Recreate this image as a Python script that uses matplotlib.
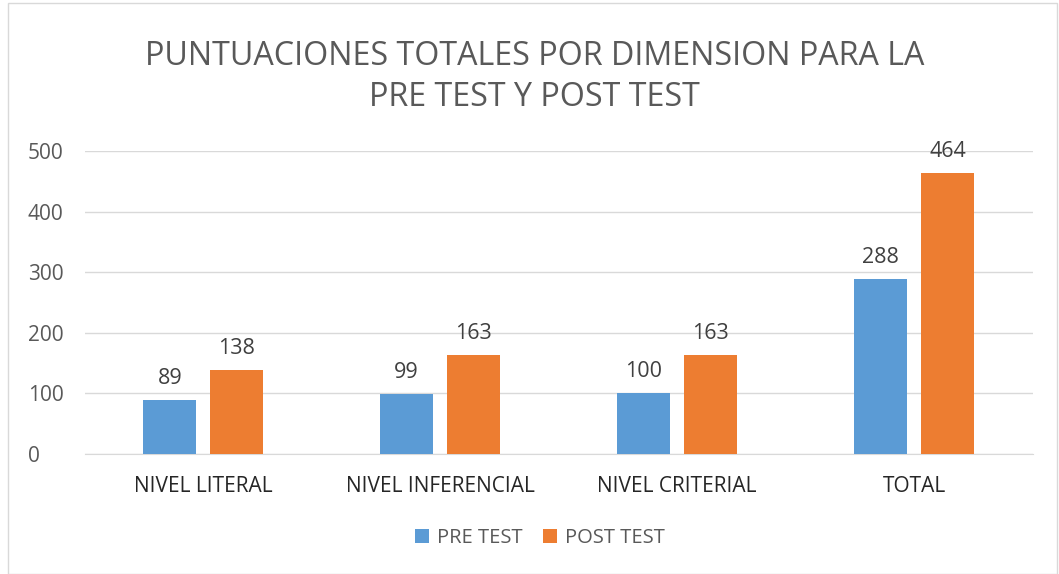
import matplotlib
matplotlib.use("Agg")
import matplotlib.pyplot as plt
import numpy as np
from matplotlib.patches import Rectangle

categories = ["NIVEL LITERAL", "NIVEL INFERENCIAL", "NIVEL CRITERIAL", "TOTAL"]
pre_test = [89, 99, 100, 288]
post_test = [138, 163, 163, 464]
series_names = ["PRE TEST", "POST TEST"]
title = "PUNTUACIONES TOTALES POR DIMENSION PARA LA\nPRE TEST Y POST TEST"

plt.rcParams['font.family'] = ['Open Sans', 'DejaVu Sans']
txt = '#595959'

fig = plt.figure(figsize=(10.59, 5.74), dpi=100)
ax = fig.add_axes([0.080, 0.209, 0.895, 0.528])

x = np.arange(len(categories))
w = 0.224
off = 0.141
b1 = ax.bar(x - off, pre_test, w, color='#5B9BD5', label=series_names[0], zorder=3)
b2 = ax.bar(x + off, post_test, w, color='#ED7D31', label=series_names[1], zorder=3)
for bars in (b1, b2):
    for r in bars:
        ax.annotate(f"{int(r.get_height())}", (r.get_x() + r.get_width()/2, r.get_height()),
                    xytext=(0, 8), textcoords='offset points', ha='center', va='bottom',
                    fontsize=15.5, color='#404040')

ax.set_xlim(-0.5, 3.5)
ax.set_ylim(0, 500)
ax.set_yticks(range(0, 501, 100))
ax.set_xticks(x)
ax.set_xticklabels(categories)
ax.tick_params(axis='both', length=0, labelsize=15, colors=txt)
ax.tick_params(axis='x', pad=16, labelcolor='#262626')
ax.tick_params(axis='y', pad=41)
for lab in ax.get_yticklabels():
    lab.set_horizontalalignment('left')
ax.grid(axis='y', color='#D9D9D9', linewidth=1, zorder=0)
for s in ['top', 'right', 'left']:
    ax.spines[s].set_visible(False)
ax.spines['bottom'].set_color('#D9D9D9')

fig.text(0.505, 0.866, title, ha='center', va='center', fontsize=23.2, color=txt, linespacing=1.35)

leg = fig.legend(loc='center', bbox_to_anchor=(0.510, 0.063), ncol=2, frameon=False,
                 fontsize=14.5, handlelength=0.7, handleheight=0.7, columnspacing=1.0, handletextpad=0.4)
for t in leg.get_texts():
    t.set_color(txt)

fig.patches.append(Rectangle((0.008, 0.0), 0.99, 0.995, transform=fig.transFigure,
                             fill=False, edgecolor='#D9D9D9', linewidth=1))

fig.savefig('out.png', dpi=100)
